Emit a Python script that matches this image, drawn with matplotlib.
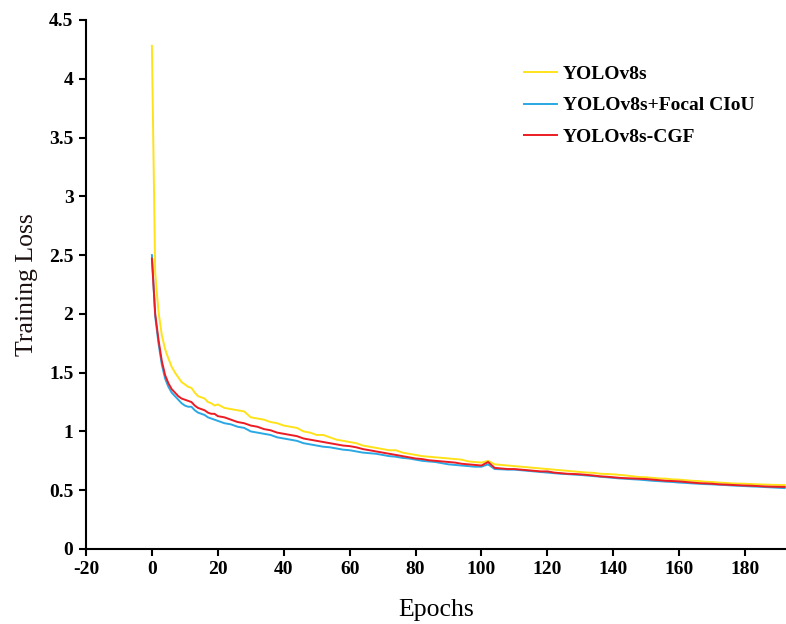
import numpy as np
import matplotlib
matplotlib.use("Agg")
import matplotlib.pyplot as plt
from matplotlib.ticker import FuncFormatter

# ---------------- data ----------------
early_epochs = list(range(0, 21))
late_epochs = list(range(22, 193, 2))
epochs = early_epochs + late_epochs

yolov8s_early = [4.28, 2.35, 2.02, 1.82, 1.70, 1.62, 1.55, 1.50, 1.46, 1.42, 1.40,
                 1.38, 1.37, 1.33, 1.30, 1.29, 1.28, 1.25, 1.24, 1.22, 1.23]
yolov8s_late = [1.20, 1.19, 1.18, 1.17, 1.12, 1.11, 1.10, 1.08, 1.07, 1.05,
                1.04, 1.03, 1.00, 0.99, 0.97, 0.97, 0.95, 0.93, 0.92, 0.91,
                0.90, 0.88, 0.87, 0.86, 0.85, 0.84, 0.84, 0.82, 0.81, 0.80,
                0.79, 0.785, 0.78, 0.775, 0.77, 0.765, 0.76, 0.745, 0.74, 0.735,
                0.75, 0.72, 0.715, 0.71, 0.705, 0.70, 0.695, 0.69, 0.685, 0.68,
                0.675, 0.67, 0.665, 0.66, 0.655, 0.65, 0.648, 0.64, 0.638, 0.635,
                0.63, 0.625, 0.618, 0.612, 0.61, 0.605, 0.60, 0.598, 0.592, 0.59,
                0.585, 0.58, 0.578, 0.572, 0.57, 0.565, 0.562, 0.558, 0.556, 0.555,
                0.552, 0.55, 0.548, 0.546, 0.545, 0.544]

focal_early = [2.50, 1.98, 1.75, 1.57, 1.45, 1.38, 1.33, 1.30, 1.27, 1.24, 1.22,
               1.21, 1.21, 1.18, 1.16, 1.15, 1.14, 1.12, 1.11, 1.10, 1.09]
focal_late = [1.07, 1.06, 1.04, 1.03, 1.00, 0.99, 0.98, 0.97, 0.95, 0.94,
              0.93, 0.92, 0.90, 0.89, 0.88, 0.87, 0.865, 0.855, 0.845, 0.84,
              0.83, 0.82, 0.815, 0.81, 0.80, 0.79, 0.785, 0.775, 0.77, 0.76,
              0.75, 0.745, 0.74, 0.73, 0.72, 0.715, 0.71, 0.705, 0.70, 0.70,
              0.72, 0.68, 0.678, 0.675, 0.675, 0.67, 0.665, 0.66, 0.655, 0.65,
              0.645, 0.64, 0.637, 0.633, 0.63, 0.625, 0.62, 0.615, 0.61, 0.605,
              0.60, 0.597, 0.593, 0.59, 0.585, 0.58, 0.577, 0.573, 0.57, 0.565,
              0.562, 0.558, 0.555, 0.552, 0.55, 0.547, 0.544, 0.54, 0.538, 0.535,
              0.532, 0.53, 0.527, 0.524, 0.521, 0.518]

cgf_early = [2.47, 2.00, 1.78, 1.60, 1.48, 1.41, 1.36, 1.33, 1.30, 1.28, 1.27,
             1.26, 1.25, 1.22, 1.20, 1.19, 1.18, 1.16, 1.15, 1.15, 1.13]
cgf_late = [1.12, 1.10, 1.08, 1.07, 1.05, 1.04, 1.02, 1.01, 0.99, 0.98,
            0.97, 0.96, 0.94, 0.93, 0.92, 0.91, 0.90, 0.89, 0.88, 0.875,
            0.865, 0.85, 0.84, 0.83, 0.82, 0.81, 0.80, 0.79, 0.78, 0.77,
            0.765, 0.755, 0.75, 0.745, 0.74, 0.735, 0.725, 0.72, 0.715, 0.71,
            0.74, 0.69, 0.685, 0.68, 0.68, 0.675, 0.67, 0.665, 0.66, 0.66,
            0.65, 0.645, 0.64, 0.638, 0.635, 0.63, 0.625, 0.618, 0.615, 0.61,
            0.605, 0.602, 0.60, 0.597, 0.595, 0.59, 0.585, 0.58, 0.578, 0.575,
            0.57, 0.565, 0.56, 0.558, 0.555, 0.55, 0.548, 0.545, 0.542, 0.54,
            0.538, 0.535, 0.532, 0.53, 0.529, 0.528]

yolov8s = yolov8s_early + yolov8s_late
focal = focal_early + focal_late
cgf = cgf_early + cgf_late

labels = ["YOLOv8s", "YOLOv8s+Focal CIoU", "YOLOv8s-CGF"]
colors = ["#FFE21A", "#2AA8E4", "#EC1C24"]

xticks = list(range(-20, 181, 20))
yticks = [0, 0.5, 1, 1.5, 2, 2.5, 3, 3.5, 4, 4.5]

# ---------------- plot ----------------
plt.rcParams['font.family'] = ['Liberation Serif', 'DejaVu Serif']
plt.rcParams['axes.unicode_minus'] = False

fig = plt.figure(figsize=(7.86, 6.24), dpi=100)
ax = fig.add_axes([0.1094, 0.1202, 0.8906, 0.8478])

for series, lab, col in zip([yolov8s, focal, cgf], labels, colors):
    ax.plot(epochs, series, color=col, lw=1.4, label=lab)

ax.set_xlim(-20, 192.4)
ax.set_ylim(0, 4.5)
ax.set_xticks(xticks)
ax.set_yticks(yticks)
ax.yaxis.set_major_formatter(FuncFormatter(lambda v, p: f"{v:g}"))

for s in ['top', 'right']:
    ax.spines[s].set_visible(False)
for s in ['left', 'bottom']:
    ax.spines[s].set_linewidth(1.5)
    ax.spines[s].set_color('black')

ax.tick_params(axis='both', direction='out', length=5, width=1.5,
               labelsize=14, pad=4)
for lbl in ax.get_xticklabels() + ax.get_yticklabels():
    lbl.set_fontweight('bold')

ax.set_xlabel("Epochs", fontsize=18.5, labelpad=15)
ax.set_ylabel("Training Loss", fontsize=18.5, labelpad=8, color='#1c1010')

leg = ax.legend(loc='upper left', bbox_to_anchor=(0.601, 0.947), frameon=False,
                prop={'weight': 'bold', 'size': 14}, handlelength=1.7,
                handletextpad=0.3, labelspacing=0.7)

fig.savefig("out.png", dpi=100)
